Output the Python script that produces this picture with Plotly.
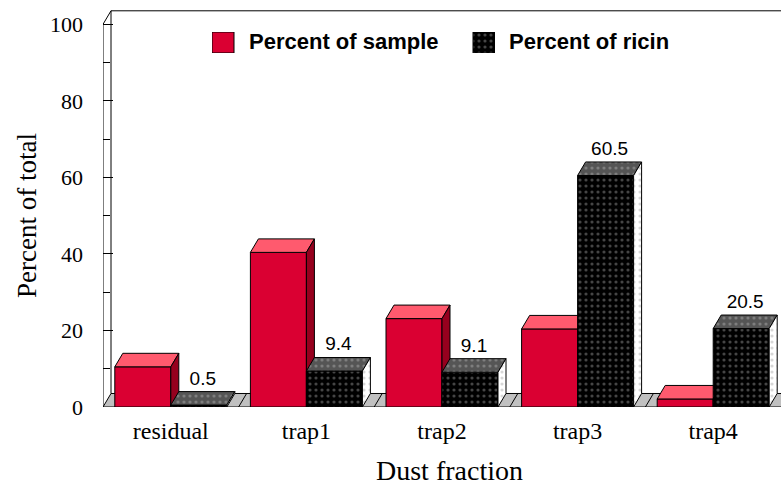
import plotly.graph_objects as go

# ---------------- data ----------------
categories = ["residual", "trap1", "trap2", "trap3", "trap4"]
sample_pct = [10.5, 40.4, 23.1, 20.4, 2.1]
ricin_pct = [0.5, 9.4, 9.1, 60.5, 20.5]
ricin_labels = ["0.5", "9.4", "9.1", "60.5", "20.5"]
y_ticks = [0, 20, 40, 60, 80, 100]
y_minor = [10, 30, 50, 70, 90]
series_names = ["Percent of sample", "Percent of ricin"]
x_title = "Dust fraction"
y_title = "Percent of total"

# ---------------- geometry / style ----------------
W, H = 781, 487
ML, MR, MT, MB = 103, 0, 9, 80
PW, PH = W - ML - MR, H - MT - MB
BAR_W = 0.413      # bar width in category units
DX = 0.059         # depth offset (category units)
DY = 3.53          # depth offset (value units)
YTOP = 104
n = len(categories)
xi = list(range(n))
XR = [-0.5, n - 0.5]

RED = "#DA0032"
RED_TOP = "#FF5A6E"
RED_SIDE = "#96001E"
FLOOR = "#C0C0C0"
SERIF = "Liberation Serif, Times New Roman, serif"
SANS = "Liberation Sans, Arial, sans-serif"


def px_x(p):
    return (p - ML) / PW


def px_y(p):
    return 1 - (p - MT) / PH


def polys_trace(polys, fillcolor, axes, pattern=None, width=1):
    xs, ys = [], []
    for poly in polys:
        for a, b in poly + [poly[0]]:
            xs.append(a)
            ys.append(b)
        xs.append(None)
        ys.append(None)
    kw = dict(x=xs, y=ys, mode="lines", fill="toself", fillcolor=fillcolor,
              line=dict(color="black", width=width), hoverinfo="skip",
              showlegend=False, xaxis=axes[0], yaxis=axes[1])
    if pattern:
        kw["fillpattern"] = pattern
    return go.Scatter(**kw)


def lines_trace(segs, axes):
    xs, ys = [], []
    for seg in segs:
        for a, b in seg:
            xs.append(a)
            ys.append(b)
        xs.append(None)
        ys.append(None)
    return go.Scatter(x=xs, y=ys, mode="lines", line=dict(color="black", width=1),
                      hoverinfo="skip", showlegend=False, xaxis=axes[0], yaxis=axes[1])


fig = go.Figure()

# ---- subplot 1: floor and walls ----
A1 = ("x", "y")
xr_end = XR[1] + 0.2
floor = [(XR[0], 0), (xr_end, 0), (xr_end + DX, DY), (XR[0] + DX, DY)]
fig.add_trace(polys_trace([floor], FLOOR, A1))
bounds = [i + 0.5 for i in range(n - 1)]
segs = [[(b, 0), (b + DX, DY)] for b in bounds]
segs.append([(XR[0], 0), (XR[0], y_ticks[-1]), (XR[0] + DX, y_ticks[-1] + DY), (xr_end + DX, y_ticks[-1] + DY)])
segs.append([(XR[0] + DX, DY), (XR[0] + DX, y_ticks[-1] + DY)])
fig.add_trace(lines_trace(segs, A1))

# ---- subplot 2: sample series ----
A2 = ("x2", "y2")
fig.add_trace(go.Bar(x=xi, y=sample_pct, width=BAR_W, offset=-BAR_W, name=series_names[0],
                     marker=dict(color=RED, line=dict(color="black", width=1)),
                     showlegend=False, xaxis="x2", yaxis="y2", hoverinfo="skip"))
tops, sides = [], []
for i, v in zip(xi, sample_pct):
    x0, x1 = i - BAR_W, i
    tops.append([(x0, v), (x1, v), (x1 + DX, v + DY), (x0 + DX, v + DY)])
    sides.append([(x1, 0), (x1, v), (x1 + DX, v + DY), (x1 + DX, DY)])
fig.add_trace(polys_trace(tops, RED_TOP, A2))
fig.add_trace(polys_trace(sides, RED_SIDE, A2))

# ---- subplot 3: ricin series ----
A3 = ("x3", "y3")
front_pat = dict(shape=".", fgcolor="#8a8a8a", bgcolor="black", size=6, solidity=0.22)
top_pat = dict(shape=".", fgcolor="#a8a8a8", bgcolor="#555555", size=6, solidity=0.22)
side_pat = dict(shape=".", fgcolor="#b0b0b0", bgcolor="white", size=6, solidity=0.22)
fig.add_trace(go.Bar(x=xi, y=ricin_pct, width=BAR_W, offset=0, name=series_names[1],
                     marker=dict(color="black", pattern=front_pat, line=dict(color="black", width=1)),
                     showlegend=False, xaxis="x3", yaxis="y3", hoverinfo="skip"))
tops, sides = [], []
for i, v in zip(xi, ricin_pct):
    x0, x1 = i, i + BAR_W
    tops.append([(x0, v), (x1, v), (x1 + DX, v + DY), (x0 + DX, v + DY)])
    sides.append([(x1, 0), (x1, v), (x1 + DX, v + DY), (x1 + DX, DY)])
fig.add_trace(polys_trace(tops, "#555555", A3, pattern=top_pat))
fig.add_trace(polys_trace(sides, "white", A3, pattern=side_pat))
fig.add_trace(go.Scatter(x=[i + BAR_W / 2 + DX / 2 for i in xi], y=[v + DY + 0.6 for v in ricin_pct],
                         mode="text", text=ricin_labels, textposition="top center",
                         textfont=dict(family=SANS, size=19, color="black"),
                         showlegend=False, hoverinfo="skip", xaxis="x3", yaxis="y3", cliponaxis=False))

# ---- legend keys (own small subplot) ----
LEG_X0, LEG_X1, LEG_Y0, LEG_Y1 = 212, 495, 32, 53
KEY = 22
fig.add_trace(polys_trace([[(0, 0), (KEY, 0), (KEY, 21), (0, 21)]], RED, ("x4", "y4")))
k0 = (LEG_X1 - LEG_X0) - KEY
fig.add_trace(polys_trace([[(k0, 0), (k0 + KEY, 0), (k0 + KEY, 21), (k0, 21)]], "black", ("x4", "y4"),
                          pattern=front_pat))

hide = dict(visible=False, showgrid=False, zeroline=False)
fig.update_layout(
    width=W, height=H, margin=dict(l=ML, r=MR, t=MT, b=MB),
    paper_bgcolor="white", plot_bgcolor="white", barmode="overlay", showlegend=False,
    xaxis=dict(domain=[0, 1], range=XR, tickmode="array", tickvals=xi, ticktext=categories,
               showgrid=False, zeroline=False, showline=False, ticks="",
               tickfont=dict(family=SERIF, size=24, color="black"), ticklabelstandoff=7),
    yaxis=dict(domain=[0, 1], range=[0, YTOP], tickmode="array", tickvals=y_ticks,
               showgrid=False, zeroline=False, showline=False,
               ticks="inside", ticklen=10, tickwidth=1, tickcolor="black",
               minor=dict(tickmode="array", tickvals=y_minor, ticks="inside", ticklen=7,
                          tickwidth=1, tickcolor="black", showgrid=False),
               tickfont=dict(family=SERIF, size=22, color="black"), ticklabelstandoff=19),
    xaxis2=dict(overlaying="x", range=XR, **hide),
    yaxis2=dict(overlaying="y", range=[0, YTOP], **hide),
    xaxis3=dict(overlaying="x", range=XR, **hide),
    yaxis3=dict(overlaying="y", range=[0, YTOP], **hide),
    xaxis4=dict(domain=[px_x(LEG_X0), px_x(LEG_X1)], range=[0, LEG_X1 - LEG_X0], anchor="y4", **hide),
    yaxis4=dict(domain=[px_y(LEG_Y1), px_y(LEG_Y0)], range=[0, LEG_Y1 - LEG_Y0], anchor="x4", **hide),
    annotations=[
        dict(text=series_names[0], x=px_x(247), y=px_y(42), xref="paper", yref="paper",
             xanchor="left", yanchor="middle", showarrow=False,
             font=dict(family=SANS, size=22, color="black", weight="bold")),
        dict(text=series_names[1], x=px_x(507), y=px_y(42), xref="paper", yref="paper",
             xanchor="left", yanchor="middle", showarrow=False,
             font=dict(family=SANS, size=22, color="black", weight="bold")),
        dict(text=x_title, x=px_x(449), y=px_y(470), xref="paper", yref="paper",
             xanchor="center", yanchor="middle", showarrow=False,
             font=dict(family=SERIF, size=28, color="black")),
        dict(text=y_title, x=px_x(27), y=px_y(216), xref="paper", yref="paper",
             xanchor="center", yanchor="middle", showarrow=False, textangle=-90,
             font=dict(family=SERIF, size=27, color="black")),
    ],
)

fig.write_html("out.html")
